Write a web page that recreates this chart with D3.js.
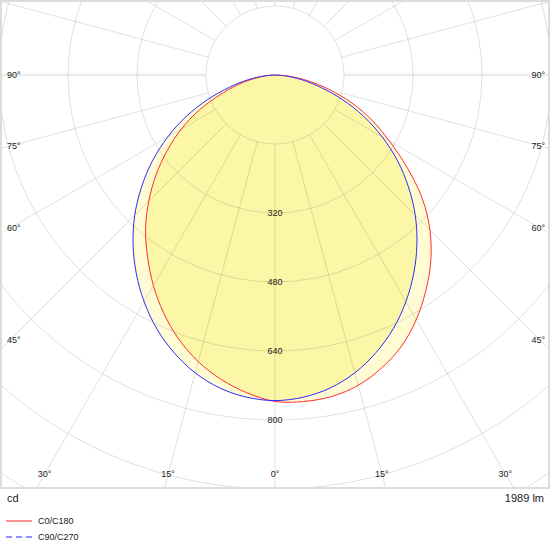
<!DOCTYPE html>
<html>
<head>
<meta charset="utf-8">
<script src="https://cdn.jsdelivr.net/npm/d3@7"></script>
<style>
  html, body { margin: 0; padding: 0; background: #fff; }
  svg { display: block; }
  text { font-family: "Liberation Sans", Arial, sans-serif; fill: #222; }
</style>
</head>
<body>
<svg id="chart" width="550" height="550"></svg>
<script>
// ---- data ----
const gammaAngles = [-90,-85,-80,-75,-70,-65,-60,-55,-50,-45,-40,-35,-30,-25,-20,-15,-10,-5,0,
                     5,10,15,20,25,30,35,40,45,50,55,60,65,70,75,80,85,90];
const c0c180 = [0,20,52,92,138,195,251,305,360,414,467,515,564,610,652,688,717,740,757,
                760,757,745,723,694,655,610,562,508,446,374,306,248,190,130,78,33,0];
const c90c270 = [0,25,63,109,166,227,287,347,404,460,512,561,607,649,685,715,737,750,755,
                 750,737,715,685,649,607,561,512,460,404,347,287,227,166,109,63,25,0];
const seriesNames = ["C0/C180", "C90/C270"];
const ringValues = [160,320,480,640,800,960,1120,1280,1440];
const ringLabels = [320,480,640,800];
const sideAngleLabels = [90,75,60,45];
const bottomAngleLabels = [30,15,0];
const unitLabel = "cd";
const fluxLabel = "1989 lm";

// ---- layout ----
const W = 550, plotH = 489;
const cx = 275, cy = 75;
const r = d3.scaleLinear().domain([0, 800]).range([0, 345]);
const rad = d => d * Math.PI / 180;

const svg = d3.select("#chart");
const defs = svg.append("defs");
defs.append("clipPath").attr("id", "clip")
  .append("rect").attr("x", 0).attr("y", 0).attr("width", W).attr("height", plotH);

const radial = d3.lineRadial()
  .angle(d => Math.PI - rad(d[0]))
  .radius(d => r(d[1]))
  .curve(d3.curveCatmullRom);

const series = [
  { name: seriesNames[0], values: c0c180, color: "#ff2d2d" },
  { name: seriesNames[1], values: c90c270, color: "#2d2dff" }
];
series.forEach(s => { s.path = radial(gammaAngles.map((a, i) => [a, s.values[i]])); });

defs.append("clipPath").attr("id", "clipRed")
  .append("path").attr("d", series[0].path + "Z");

const plot = svg.append("g").attr("clip-path", "url(#clip)");
const g = plot.append("g").attr("transform", `translate(${cx},${cy})`);

// fills: union light, intersection darker
const fills = g.append("g");
series.forEach(s => {
  fills.append("path").attr("d", s.path + "Z").attr("fill", "#fffbd3").attr("stroke", "none");
});
fills.append("g").attr("clip-path", "url(#clipRed)")
  .append("path").attr("d", series[1].path + "Z").attr("fill", "#fcf7a6").attr("stroke", "none");

// rings
g.append("g").selectAll("circle").data(ringValues).join("circle")
  .attr("r", d => r(d))
  .attr("fill", "none").attr("stroke", "rgba(0,0,0,0.12)").attr("stroke-width", 1);

// radial lines every 15 degrees
const radials = d3.range(-180, 180, 15);
g.append("g").selectAll("line").data(radials).join("line")
  .attr("x1", d => r(160) * Math.sin(rad(d)))
  .attr("y1", d => r(160) * Math.cos(rad(d)))
  .attr("x2", d => r(1600) * Math.sin(rad(d)))
  .attr("y2", d => r(1600) * Math.cos(rad(d)))
  .attr("stroke", d => Math.abs(d) === 90 ? "rgba(0,0,0,0.08)" : "rgba(0,0,0,0.12)")
  .attr("stroke-width", d => Math.abs(d) === 90 ? 2.5 : 1);

// curve strokes
series.forEach(s => {
  g.append("path").attr("d", s.path)
    .attr("fill", "none").attr("stroke", s.color).attr("stroke-width", 1);
});

// ring labels
g.append("g").selectAll("text").data(ringLabels).join("text")
  .attr("x", 0).attr("y", d => r(d)).attr("dy", "0.35em")
  .attr("text-anchor", "middle").attr("font-size", 9)
  .text(d => d);

// angle labels on the sides
const leftX = 7, rightX = 545, sideInset = 265;
sideAngleLabels.forEach(a => {
  const y = cy + sideInset / Math.tan(rad(a));
  svg.append("text").attr("x", leftX).attr("y", y).attr("dy", "0.35em")
    .attr("font-size", 9).text(a + "°");
  svg.append("text").attr("x", rightX).attr("y", y).attr("dy", "0.35em")
    .attr("text-anchor", "end").attr("font-size", 9).text(a + "°");
});
// angle labels at the bottom
const bottomY = 474;
bottomAngleLabels.forEach(a => {
  const dx = (bottomY - cy) * Math.tan(rad(a));
  const xs = a === 0 ? [cx] : [cx - dx, cx + dx];
  xs.forEach(x => svg.append("text").attr("x", x).attr("y", bottomY).attr("dy", "0.35em")
    .attr("text-anchor", "middle").attr("font-size", 9).text(a + "°"));
});

// frame
svg.append("rect").attr("x", 1).attr("y", 1).attr("width", W - 2).attr("height", plotH - 2)
  .attr("fill", "none").attr("stroke", "#dcdcdc").attr("stroke-width", 2);

// unit and flux
svg.append("text").attr("x", 7).attr("y", 502).attr("font-size", 11).text(unitLabel);
svg.append("text").attr("x", 544).attr("y", 502).attr("text-anchor", "end")
  .attr("font-size", 11).text(fluxLabel);

// legend
const legend = svg.append("g");
const legendY = [521, 537];
legend.selectAll("line").data(series).join("line")
  .attr("x1", 6).attr("x2", 32)
  .attr("y1", (d, i) => legendY[i]).attr("y2", (d, i) => legendY[i])
  .attr("stroke", (d, i) => i === 0 ? "#ff9090" : "#9090ff")
  .attr("stroke-width", 2)
  .attr("stroke-dasharray", (d, i) => i === 0 ? null : "6,4");
legend.selectAll("text").data(series).join("text")
  .attr("x", 38).attr("y", (d, i) => legendY[i]).attr("dy", "0.35em")
  .attr("font-size", 9).text(d => d.name);
</script>
</body>
</html>
